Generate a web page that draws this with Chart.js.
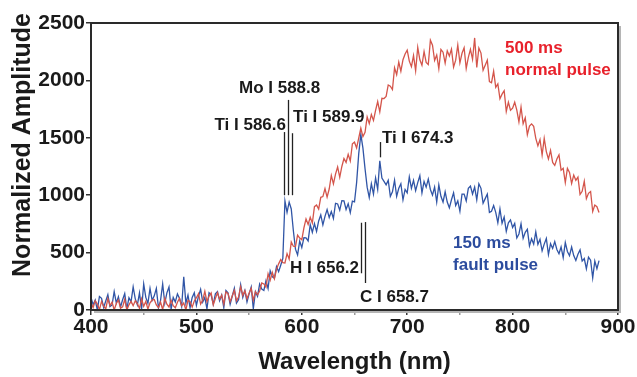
<!DOCTYPE html>
<html>
<head>
<meta charset="utf-8">
<script src="https://cdn.jsdelivr.net/npm/chart.js@4"></script>
<style>
  body { margin: 0; background: #fff; }
  #wrap { width: 637px; height: 377px; }
</style>
</head>
<body>
<div id="wrap"><canvas id="spectrumChart"></canvas></div>
<script>
// ==========================================
// 1. DATA (2 nm sampling)
// ==========================================
const waveStart = 400;   // nm, first sample
const waveStep = 2;      // nm between samples

// 500 ms normal pulse (red)
const normalPulse = [
  63, 21, 81, 51, 3, 75, 33, 9, 99, 39,
  69, 0, 57, 87, 15, 27, 93, 0, 45, 75,
  38, 80, 56, 14, 98, 32, 74, 8, 62, 86,
  92, 44, 20, 68, 2, 104, 50, 26, 86, 38,
  19, 67, 103, 37, 61, 1, 85, 73, 25, 79,
  107, 142, 51, 86, 163, 72, 121, 149, 44, 100,
  150, 94, 129, 52, 157, 143, 73, 122, 171, 80,
  112, 203, 126, 168, 98, 147, 189, 84, 161, 133,
  166, 235, 227, 198, 316, 259, 328, 271, 354, 402,
  439, 413, 410, 491, 444, 593, 555, 552, 652, 626,
  612, 716, 794, 746, 808, 758, 900, 914, 880, 982,
  988, 1058, 984, 1054, 1172, 1098, 1184, 1246, 1156, 1250,
  1320, 1286, 1356, 1298, 1448, 1462, 1412, 1498, 1584, 1510,
  1548, 1682, 1624, 1702, 1652, 1738, 1816, 1726, 1844, 1842,
  1860, 1960, 1950, 1920, 2110, 2050, 2160, 2080, 2180, 2230,
  2264, 2168, 2120, 2216, 2084, 2288, 2180, 2132, 2252, 2156,
  2138, 2350, 2306, 2174, 2222, 2102, 2270, 2246, 2150, 2258,
  2212, 2272, 2116, 2176, 2308, 2152, 2236, 2284, 2104, 2200,
  2270, 2184, 2370, 2112, 2282, 2238, 2088, 2132, 2176, 1990,
  1980, 2080, 1940, 1970, 1840, 1880, 1910, 1730, 1810, 1740,
  1758, 1810, 1741, 1639, 1768, 1622, 1674, 1528, 1602, 1621,
  1600, 1495, 1430, 1485, 1350, 1495, 1380, 1315, 1390, 1285,
  1260, 1316, 1352, 1218, 1234, 1110, 1234, 1198, 1102, 1176,
  1130, 1158, 1006, 1034, 1122, 970, 1016, 1032, 858, 914,
  900, 850
];

// 150 ms fault pulse (blue)
const faultPulse = [
  110, 46, 86, 0, 118, 102, 22, 78, 134, 30,
  44, 161, 62, 116, 26, 89, 143, 8, 107, 71,
  201, 97, 45, 149, 6, 227, 110, 58, 188, 84,
  123, 188, 19, 84, 227, 58, 149, 201, 6, 110,
  70, 140, 100, 30, 290, 60, 130, 20, 110, 150,
  40, 120, 180, 70, 110, 10, 150, 130, 50, 140,
  160, 80, 130, 20, 170, 150, 50, 120, 190, 60,
  90, 220, 110, 170, 70, 140, 200, 10, 160, 120,
  226, 182, 170, 254, 186, 342, 290, 278, 378, 334,
  390, 450, 950, 850, 940, 880, 690, 530, 480, 600,
  544, 630, 628, 602, 744, 676, 752, 684, 776, 828,
  742, 816, 874, 806, 858, 798, 930, 924, 870, 952,
  950, 876, 926, 848, 948, 942, 1110, 1360, 1530, 1410,
  1230, 1070, 980, 1100, 1010, 1150, 1050, 1300, 1150, 1120,
  1090, 1130, 990, 1030, 1130, 990, 1060, 1100, 960, 1050,
  1020, 1160, 1060, 1130, 1040, 1110, 1170, 1020, 1120, 1070,
  1140, 1050, 1000, 1070, 940, 1090, 990, 940, 1030, 940,
  890, 960, 1020, 910, 950, 860, 1010, 1010, 950, 1060,
  1080, 1010, 1070, 960, 1100, 1060, 930, 970, 1010, 850,
  860, 910, 850, 760, 880, 755, 810, 685, 760, 785,
  719, 754, 627, 662, 751, 624, 677, 703, 558, 620,
  574, 681, 572, 616, 516, 574, 623, 483, 577, 536,
  596, 527, 490, 549, 456, 587, 510, 473, 548, 474,
  432, 486, 524, 426, 448, 358, 460, 434, 280, 427,
  360, 430
];

// axis ticks
const xTicks = [400, 500, 600, 700, 800, 900];
const yTicks = [0, 500, 1000, 1500, 2000, 2500];

// emission line labels: text, marker wavelength, marker top/bottom amplitude
const lineNames = ['Ti I 586.6', 'Mo I 588.8', 'Ti I 589.9', 'Ti I 674.3', 'H I 656.2', 'C I 658.7'];
const lineMarkNm = [583.5, 587.3, 591.1, 674.2, 656.2, 660.0];
const lineMarkTop = [1550, 1830, 1540, 1463, 760, 766];
const lineMarkBottom = [1000, 1000, 1000, 1330, 320, 235];

// ==========================================
// 2. LAYOUT / STYLE (kept apart from the data)
// ==========================================
const FONT = "'Liberation Sans', Arial, Helvetica, sans-serif";
const RED_LINE = '#d4554b';
const BLUE_LINE = '#3055a6';

// where each emission label sits (nm, amplitude, alignment)
const labelSpots = [
  { nm: 585.0, val: 1611, align: 'right' },
  { nm: 540.4, val: 1934, align: 'left' },
  { nm: 591.7, val: 1681, align: 'left' },
  { nm: 676.1, val: 1498, align: 'left' },
  { nm: 654.3, val: 366, align: 'right' },
  { nm: 655.2, val: 113, align: 'left' }
];

const seriesNotes = [
  { lines: ['500 ms', 'normal pulse'], nm: 792.8, val: 2282, color: '#e8212b' },
  { lines: ['150 ms', 'fault pulse'], nm: 743.5, val: 584, color: '#2c4c9e' }
];

function toPoints(values) {
  return values.map((v, i) => ({ x: waveStart + i * waveStep, y: v }));
}

// frame, marker lines, labels and axis titles
const spectrumDecor = {
  id: 'spectrumDecor',
  afterDatasetsDraw(chart) {
    const { ctx, chartArea: a, scales: { x, y } } = chart;
    ctx.save();

    // light shadow on right and bottom, then the black frame
    ctx.lineWidth = 2;
    ctx.strokeStyle = '#b5b5b5';
    ctx.beginPath();
    ctx.moveTo(a.left + 3, a.bottom + 2);
    ctx.lineTo(a.right + 2, a.bottom + 2);
    ctx.lineTo(a.right + 2, a.top + 3);
    ctx.stroke();
    ctx.strokeStyle = '#2a2a2a';
    ctx.strokeRect(a.left, a.top, a.right - a.left, a.bottom - a.top);

    // emission line markers
    ctx.lineWidth = 1.3;
    ctx.strokeStyle = '#222';
    lineMarkNm.forEach((nm, i) => {
      const px = Math.round(x.getPixelForValue(nm)) + 0.5;
      ctx.beginPath();
      ctx.moveTo(px, y.getPixelForValue(lineMarkTop[i]));
      ctx.lineTo(px, y.getPixelForValue(lineMarkBottom[i]));
      ctx.stroke();
    });

    // emission line labels
    ctx.font = 'bold 17px ' + FONT;
    ctx.fillStyle = '#1a1a1a';
    ctx.textBaseline = 'middle';
    lineNames.forEach((name, i) => {
      const s = labelSpots[i];
      ctx.textAlign = s.align;
      ctx.fillText(name, x.getPixelForValue(s.nm), y.getPixelForValue(s.val));
    });

    // series notes
    ctx.textAlign = 'left';
    seriesNotes.forEach(n => {
      ctx.fillStyle = n.color;
      n.lines.forEach((t, j) => {
        ctx.fillText(t, x.getPixelForValue(n.nm), y.getPixelForValue(n.val) + j * 22);
      });
    });

    // axis titles
    ctx.fillStyle = '#1a1a1a';
    ctx.font = 'bold 24px ' + FONT;
    ctx.textAlign = 'center';
    ctx.fillText('Wavelength (nm)', (a.left + a.right) / 2, a.bottom + 52);
    ctx.font = 'bold 25px ' + FONT;
    ctx.translate(a.left - 68, a.top + 0.425 * (a.bottom - a.top));
    ctx.rotate(-Math.PI / 2);
    ctx.fillText('Normalized Amplitude', 0, 0);

    ctx.restore();
  }
};

const tickColor = c => (c.tick && c.tick.value % 100 !== 0) ? '#9a9a9a' : '#333';

new Chart(document.getElementById('spectrumChart'), {
  type: 'line',
  data: {
    datasets: [
      {
        label: '500 ms normal pulse',
        data: toPoints(normalPulse),
        borderColor: RED_LINE,
        borderWidth: 1.3,
        pointRadius: 0,
        tension: 0
      },
      {
        label: '150 ms fault pulse',
        data: toPoints(faultPulse),
        borderColor: BLUE_LINE,
        borderWidth: 1.3,
        pointRadius: 0,
        tension: 0
      }
    ]
  },
  options: {
    responsive: true,
    maintainAspectRatio: false,
    animation: false,
    layout: { padding: { top: 23, right: 19, left: 0, bottom: 0 } },
    plugins: {
      legend: { display: false },
      tooltip: { enabled: false }
    },
    scales: {
      x: {
        type: 'linear',
        min: 400,
        max: 900,
        afterFit: s => { s.height = 67; },
        border: { display: false },
        grid: { drawOnChartArea: false, tickLength: 5, color: tickColor, lineWidth: 1.5 },
        ticks: {
          stepSize: 50,
          padding: 0,
          maxRotation: 0,
          color: '#1a1a1a',
          font: { family: FONT, size: 21, weight: 'bold' },
          callback: v => xTicks.includes(v) ? v : ''
        }
      },
      y: {
        min: 0,
        max: 2500,
        afterFit: s => { s.width = 91; },
        border: { display: false },
        grid: { drawOnChartArea: false, tickLength: 5, color: '#333', lineWidth: 1.5 },
        ticks: {
          stepSize: 500,
          padding: 1,
          color: '#1a1a1a',
          font: { family: FONT, size: 21, weight: 'bold' },
          callback: v => yTicks.includes(v) ? v : ''
        }
      }
    }
  },
  plugins: [spectrumDecor]
});
</script>
</body>
</html>
